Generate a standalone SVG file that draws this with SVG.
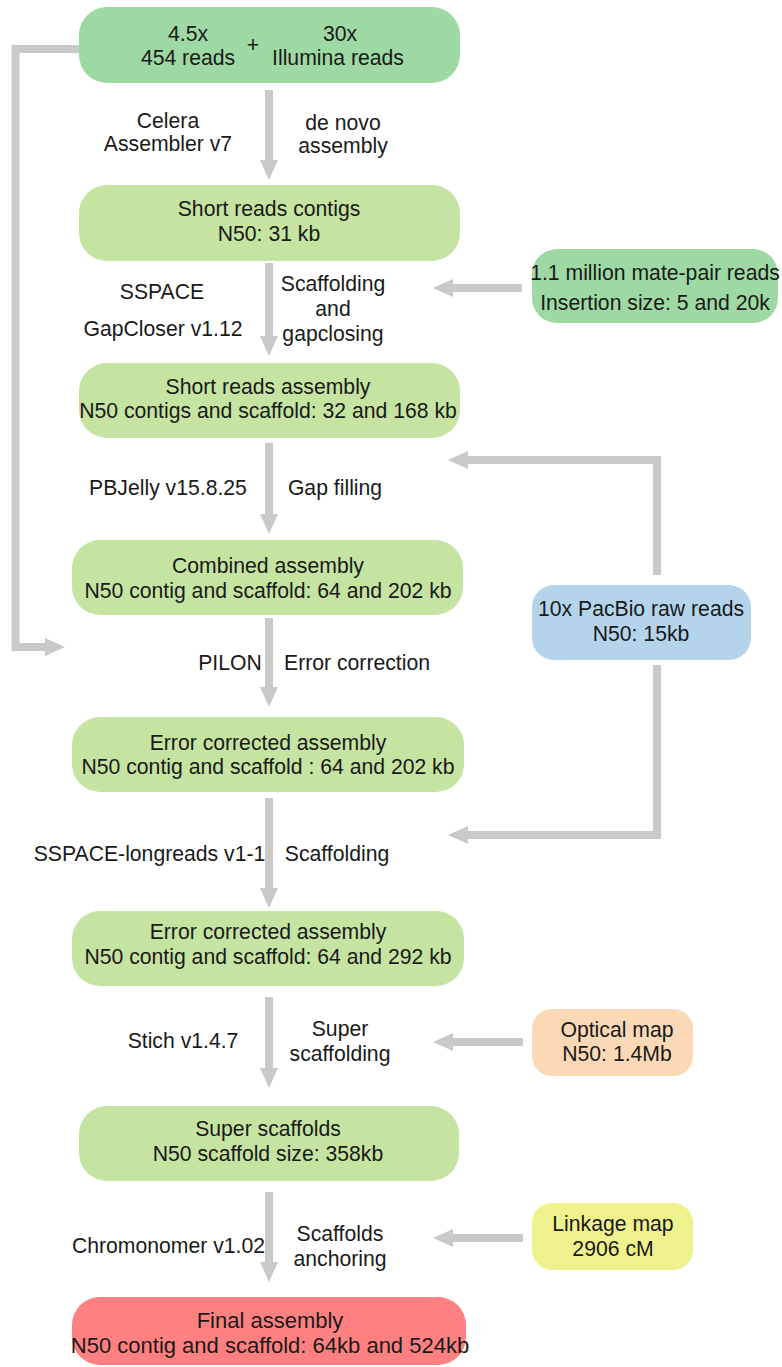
<svg xmlns="http://www.w3.org/2000/svg" width="782" height="1367" viewBox="0 0 782 1367">
<defs>
<style>
text{font-family:"Liberation Sans",Arial,sans-serif;font-size:21.2px;fill:#1a1a1a;text-anchor:middle}
.fin{font-size:22px}
.main{fill:#c5e3a1}
.mint{fill:#9ed9a4}
.blue{fill:#b4d4ec}
.orange{fill:#fbd8b6}
.yellow{fill:#eef18c}
.red{fill:#fe8080}
.conn{fill:none;stroke:#c9c9c9;stroke-width:8;stroke-linejoin:miter}
.arr{marker-end:url(#ah)}
</style>
<marker id="ah" markerUnits="userSpaceOnUse" markerWidth="20" markerHeight="18" viewBox="0 0 20 18" refX="1" refY="9" orient="auto">
<path d="M0,0 L20,9 L0,18 z" fill="#c9c9c9"/>
</marker>
</defs>
<rect width="782" height="1367" fill="#ffffff"/>
<g id="connectors">
<line class="conn arr" x1="269" y1="90" x2="269" y2="161"/>
<line class="conn arr" x1="269" y1="263" x2="269" y2="337"/>
<line class="conn arr" x1="269" y1="443" x2="269" y2="515"/>
<line class="conn arr" x1="269" y1="618" x2="269" y2="688"/>
<line class="conn arr" x1="269" y1="798" x2="269" y2="889"/>
<line class="conn arr" x1="269" y1="997" x2="269" y2="1069"/>
<line class="conn arr" x1="269" y1="1192" x2="269" y2="1263"/>
<polyline class="conn arr" points="80,49 15.5,49 15.5,647 46,647"/>
<line class="conn arr" x1="522" y1="288" x2="452" y2="288"/>
<polyline class="conn arr" points="657,575 657,460 467,460"/>
<polyline class="conn arr" points="657,665 657,835 467,835"/>
<line class="conn arr" x1="523" y1="1042" x2="452" y2="1042"/>
<line class="conn arr" x1="523" y1="1238" x2="452" y2="1238"/>
</g>
<g id="input-reads">
<rect class="mint" x="79" y="7" width="381" height="76" rx="28"/>
<text x="188" y="40.5">4.5x</text>
<text x="188" y="64.5">454 reads</text>
<text x="253" y="52">+</text>
<text x="340" y="40.5">30x</text>
<text x="338" y="64.5">Illumina reads</text>
</g>
<g id="label-denovo">
<text x="168" y="127.5">Celera</text>
<text x="168" y="150.5">Assembler v7</text>
<text x="343" y="129.5">de novo</text>
<text x="343" y="152.5">assembly</text>
</g>
<g id="short-reads-contigs">
<rect class="main" x="79" y="185" width="381" height="76" rx="28"/>
<text x="269" y="215.5">Short reads contigs</text>
<text x="269" y="240.5">N50: 31 kb</text>
</g>
<g id="label-scaffolding">
<text x="162" y="298.5">SSPACE</text>
<text x="163" y="335.5">GapCloser v1.12</text>
<text x="333" y="290.5">Scaffolding</text>
<text x="333" y="315.5">and</text>
<text x="333" y="340.5">gapclosing</text>
</g>
<g id="mate-pair">
<rect class="mint" x="532" y="249" width="246" height="74" rx="25"/>
<text x="655" y="279.5">1.1 million mate-pair reads</text>
<text x="655" y="309.5">Insertion size: 5 and 20k</text>
</g>
<g id="short-reads-assembly">
<rect class="main" x="79" y="363" width="381" height="75" rx="28"/>
<text x="268" y="393.5">Short reads assembly</text>
<text x="268" y="417.5">N50 contigs and scaffold: 32 and 168 kb</text>
</g>
<g id="label-gapfilling">
<text x="168" y="494.5">PBJelly v15.8.25</text>
<text x="335" y="494.5">Gap filling</text>
</g>
<g id="combined-assembly">
<rect class="main" x="72" y="540" width="391" height="75" rx="28"/>
<text x="268" y="572.5">Combined assembly</text>
<text x="268" y="597.5">N50 contig and scaffold: 64 and 202 kb</text>
</g>
<g id="pacbio">
<rect class="blue" x="532" y="585" width="219" height="75" rx="22"/>
<text x="641" y="615.5">10x PacBio raw reads</text>
<text x="641" y="640.5">N50: 15kb</text>
</g>
<g id="label-errorcorrection">
<text x="230" y="669.5">PILON</text>
<text x="357" y="669.5">Error correction</text>
</g>
<g id="error-corrected-1">
<rect class="main" x="72" y="717" width="392" height="75" rx="28"/>
<text x="268" y="749.5">Error corrected assembly</text>
<text x="268" y="773.5">N50 contig and scaffold : 64 and 202 kb</text>
</g>
<g id="label-longreads">
<text x="149.5" y="860.5">SSPACE-longreads v1-1</text>
<text x="337" y="860.5">Scaffolding</text>
</g>
<g id="error-corrected-2">
<rect class="main" x="72" y="911" width="392" height="75" rx="28"/>
<text x="268" y="938.5">Error corrected assembly</text>
<text x="268" y="963.5">N50 contig and scaffold: 64 and 292 kb</text>
</g>
<g id="label-super">
<text x="183" y="1047.5">Stich v1.4.7</text>
<text x="340" y="1035.5">Super</text>
<text x="340" y="1060.5">scaffolding</text>
</g>
<g id="optical-map">
<rect class="orange" x="532" y="1009" width="161" height="67" rx="20"/>
<text x="617" y="1036.5">Optical map</text>
<text x="617" y="1060.5">N50: 1.4Mb</text>
</g>
<g id="super-scaffolds">
<rect class="main" x="79" y="1106" width="380" height="75" rx="28"/>
<text x="268" y="1135.5">Super scaffolds</text>
<text x="268" y="1160.5">N50 scaffold size: 358kb</text>
</g>
<g id="label-anchoring">
<text x="168.5" y="1252.5">Chromonomer v1.02</text>
<text x="340" y="1240.5">Scaffolds</text>
<text x="340" y="1265.5">anchoring</text>
</g>
<g id="linkage-map">
<rect class="yellow" x="532" y="1203" width="161" height="67" rx="20"/>
<text x="613" y="1230.5">Linkage map</text>
<text x="613" y="1255.5">2906 cM</text>
</g>
<g id="final-assembly">
<rect class="red" x="72" y="1297" width="394" height="68" rx="28"/>
<text class="fin" x="270" y="1327.5">Final assembly</text>
<text class="fin" x="270" y="1352.5">N50 contig and scaffold: 64kb and 524kb</text>
</g>
</svg>
